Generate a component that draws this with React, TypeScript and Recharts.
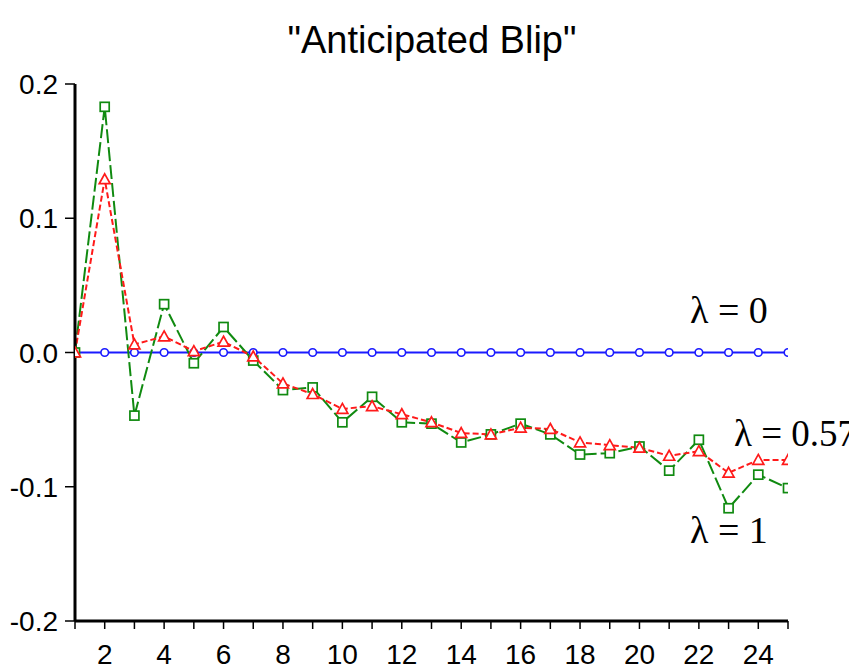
import React from 'react';
import { LineChart, Line, XAxis, YAxis, Customized } from 'recharts';

const periods = [1, 2, 3, 4, 5, 6, 7, 8, 9, 10, 11, 12, 13, 14, 15, 16, 17, 18, 19, 20, 21, 22, 23, 24, 25];
const lambda0 = [0, 0, 0, 0, 0, 0, 0, 0, 0, 0, 0, 0, 0, 0, 0, 0, 0, 0, 0, 0, 0, 0, 0, 0, 0];
const lambda057 = [0, 0.129, 0.006, 0.012, 0.001, 0.008, -0.003, -0.023, -0.031, -0.042, -0.04, -0.046, -0.052, -0.06, -0.061, -0.056, -0.057, -0.067, -0.069, -0.071, -0.077, -0.0735, -0.0896, -0.08, -0.08];
const lambda1 = [0, 0.183, -0.047, 0.036, -0.008, 0.019, -0.006, -0.028, -0.026, -0.052, -0.033, -0.052, -0.053, -0.067, -0.061, -0.053, -0.061, -0.076, -0.075, -0.07, -0.088, -0.065, -0.116, -0.091, -0.101];
const xTicks = periods;
const yTicks = [-0.2, -0.1, 0, 0.1, 0.2];
const title = '"Anticipated Blip"';
const labels = ['λ = 0', 'λ = 0.57', 'λ = 1'];

const data = periods.map((t, i) => ({ t, a: lambda0[i], b: lambda057[i], c: lambda1[i] }));

const BLUE = '#1a1aff';
const RED = '#ff1a1a';
const GREEN = '#108a10';
const SANS = '"Liberation Sans", Arial, sans-serif';
const SERIF = '"Liberation Serif", "Times New Roman", serif';

const CircleDot = (p: any) => {
  if (p.cx == null || p.cy == null) return null;
  return <circle key={p.key} cx={p.cx} cy={p.cy} r={3.8} fill="#fff" stroke={BLUE} strokeWidth={1.6} />;
};
const SquareDot = (p: any) => {
  if (p.cx == null || p.cy == null) return null;
  return <rect key={p.key} x={p.cx - 4.5} y={p.cy - 4.5} width={9} height={9} fill="#fff" stroke={GREEN} strokeWidth={1.7} />;
};
const TriDot = (p: any) => {
  if (p.cx == null || p.cy == null) return null;
  const s = 5.5;
  return (
    <path key={p.key} d={`M${p.cx},${p.cy - s} L${p.cx + s},${p.cy + s * 0.8} L${p.cx - s},${p.cy + s * 0.8} Z`} fill="#fff" stroke={RED} strokeWidth={1.7} />
  );
};

const XTick = (p: any) => {
  const v = p.payload.value;
  return (
    <text x={p.x} y={p.y} dy="0.71em" textAnchor="middle" fontFamily={SANS} fontSize={28} fill="#000">
      {v % 2 === 0 ? String(v) : ''}
    </text>
  );
};

const YTick = (p: any) => (
  <text x={p.x} y={p.y} dy="0.36em" textAnchor="end" fontFamily={SANS} fontSize={28} fill="#000">
    {Number(p.payload.value).toFixed(1)}
  </text>
);

const Annotations = () => (
  <g>
    <text x={424} y={45} textAnchor="middle" fontFamily={SANS} fontSize={38} fill="#000">{title}</text>
    <text x={682} y={315} fontFamily={SERIF} fontSize={38} fill="#000">{labels[0]}</text>
    <text x={726} y={438} fontFamily={SERIF} fontSize={37} fill="#000">{labels[1]}</text>
    <text x={682} y={535} fontFamily={SERIF} fontSize={38} fill="#000">{labels[2]}</text>
  </g>
);

export default function App() {
  return (
    <LineChart width={849} height={662} data={data} margin={{ top: 76, right: 69, bottom: 9, left: 7 }}>
      <XAxis
        dataKey="t"
        type="number"
        domain={[1, 25]}
        ticks={xTicks}
        interval={0}
        allowDataOverflow
        height={40}
        tickSize={8}
        tickMargin={15}
        axisLine={{ stroke: '#000', strokeWidth: 3 }}
        tickLine={{ stroke: '#000', strokeWidth: 1.5 }}
        tick={<XTick />}
      />
      <YAxis
        type="number"
        domain={[-0.2, 0.2]}
        ticks={yTicks}
        interval={0}
        width={60}
        tickSize={10}
        tickMargin={7}
        axisLine={{ stroke: '#000', strokeWidth: 3 }}
        tickLine={{ stroke: '#000', strokeWidth: 1.5 }}
        tick={<YTick />}
      />
      <Line dataKey="a" stroke={BLUE} strokeWidth={2.2} dot={CircleDot} activeDot={false} isAnimationActive={false} />
      <Line dataKey="c" stroke={GREEN} strokeWidth={2} strokeDasharray="14 4" dot={SquareDot} activeDot={false} isAnimationActive={false} />
      <Line dataKey="b" stroke={RED} strokeWidth={2} strokeDasharray="6 3" dot={TriDot} activeDot={false} isAnimationActive={false} />
      <Customized component={Annotations} />
    </LineChart>
  );
}
